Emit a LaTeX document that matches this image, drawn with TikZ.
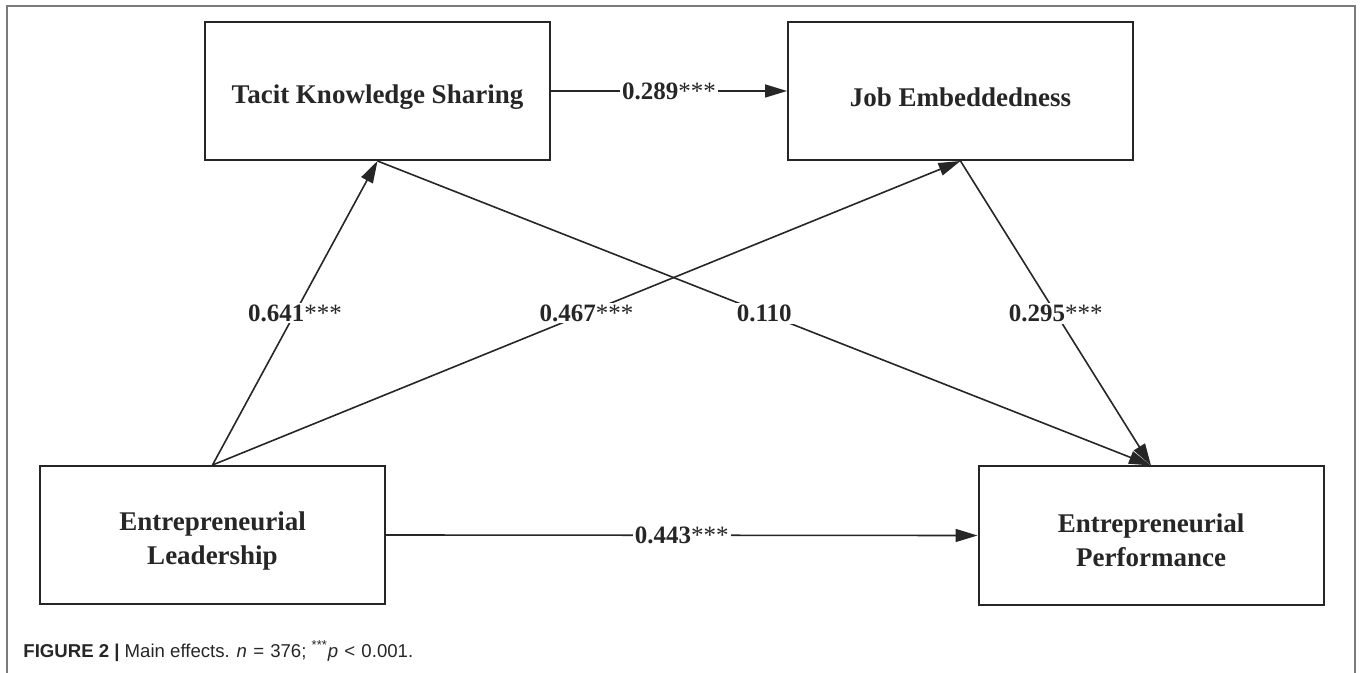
\documentclass[tikz,border=0pt]{standalone}
\usepackage{fontspec}
\setmainfont{Liberation Serif}
\newfontfamily\capfont{Liberation Sans}
\usetikzlibrary{arrows.meta}
\definecolor{ink}{HTML}{262626}
\definecolor{framegray}{HTML}{7A7A7A}
\tikzset{
  box/.style={draw=ink, line width=1pt, minimum width=172.5pt, minimum height=69pt, inner sep=0pt},
  boxtext/.style={align=center, font=\fontsize{13.5}{17}\selectfont\bfseries, text=ink, inner sep=0pt},
  conn/.style={draw=ink, line width=0.8pt, -{Triangle[length=11pt,width=6.5pt]}},
  lbl/.style={fill=white, inner sep=1pt, text=ink, font=\fontsize{12.5}{15}\selectfont},
}
\newcommand{\coef}[2]{\textbf{#1}#2}
\begin{document}
\begin{tikzpicture}[x=0.5pt,y=-0.5pt]
\useasboundingbox (0,0) rectangle (1360,673);
% frame
\draw[framegray, line width=1pt] (7,673) -- (7,6) -- (1355,6) -- (1355,673);
% boxes
\node[box] (tks) at (377.5,91) {};
\node[box] (je)  at (960.5,91) {};
\node[box] (el)  at (212.5,535) {};
\node[box] (ep)  at (1151,535.5) {};
\node[boxtext] (tkst) at ([yshift=-3pt]tks.center) {Tacit Knowledge Sharing};
\node[boxtext] (jet)  at ([yshift=-3pt]je.center) {Job Embeddedness};
\node[boxtext] (elt)  at ([yshift=-3pt]el.center) {Entrepreneurial\\Leadership};
\node[boxtext] (ept)  at ([yshift=-2.5pt]ep.center) {Entrepreneurial\\Performance};
% connectors
\draw[conn] (tks.east) -- node[lbl]{\coef{0.289}{***}} (je.west);
\draw[conn] (el.north) -- node[lbl]{\coef{0.641}{***}} (tks.south);
\draw[conn] (el.north) -- node[lbl]{\coef{0.467}{***}} (je.south);
\draw[conn] (tks.south) -- node[lbl]{\coef{0.110}{}} (ep.north);
\draw[conn] (je.south) -- node[lbl]{\coef{0.295}{***}} (ep.north);
\draw[conn] (el.east) -- node[lbl]{\coef{0.443}{***}} (ep.west);
% caption
\node[anchor=base west, inner sep=0pt, text=ink, font=\capfont\fontsize{9.3}{11}\selectfont] (cap) at (23,657)
  {\textbf{FIGURE 2 |} Main effects. \textit{n}\,\,=\,\,376; \textsuperscript{***}\textit{p}\,\,{\textless}\,\,0.001.};
\end{tikzpicture}
\end{document}
